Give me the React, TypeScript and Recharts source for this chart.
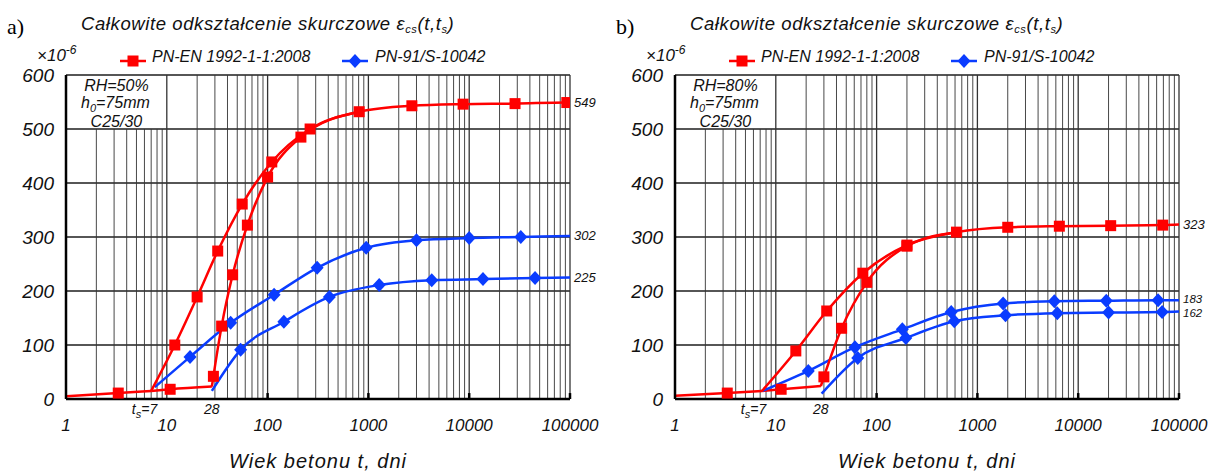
import React from "react";
import {
  LineChart, Line, XAxis, YAxis, CartesianGrid,
  ReferenceLine, ReferenceDot, ReferenceArea
} from "recharts";

const FONT = "'Liberation Sans', Arial, sans-serif";
const RED = "#ff0000";
const BLUE = "#0a3cff";
const W = 607;
const H = 474;

const xTicks = [1, 10, 100, 1000, 10000, 100000];
const yTicks = [0, 100, 200, 300, 400, 500, 600];

// a) RH=50%
const aBase1T = [1, 3.3, 7];
const aBase1V = [5, 11, 15];
const aBase2T = [7, 10.8, 28];
const aBase2V = [15, 18, 23];
const aEn7T = [7, 12, 20, 32, 56, 110, 264, 810, 2700, 8700, 28500, 93000, 100000];
const aEn7V = [15, 100, 189, 274, 361, 439, 500, 532, 543, 546, 547, 549, 549];
const aEn28T = [28, 29, 35, 45, 63, 100, 214, 810];
const aEn28V = [23, 42, 135, 230, 322, 411, 485, 532];
const aPn7T = [7.6, 17, 43, 116, 310, 950, 3000, 10000, 32500, 100000];
const aPn7V = [22, 78, 141, 193, 243, 280, 294, 298, 300, 302];
const aPn28T = [28, 54, 145, 410, 1280, 4250, 13700, 45000, 100000];
const aPn28V = [15, 91, 143, 189, 211, 220, 222, 224, 225];

// b) RH=80%
const bBase1T = [1, 3.3, 7.3];
const bBase1V = [6, 11, 15];
const bBase2T = [7.3, 11.3, 28];
const bBase2V = [15, 18, 24];
const bEn7T = [7.3, 15.8, 32, 73, 200, 620, 2000, 6500, 21000, 69000, 100000];
const bEn7V = [15, 89, 163, 233, 285, 309, 318, 320, 321, 322, 323];
const bEn28T = [28, 30, 45, 80, 200, 620];
const bEn28V = [24, 41, 131, 216, 283, 309];
const bPn7T = [7.4, 21, 61, 180, 550, 1800, 5800, 19000, 62000, 100000];
const bPn7V = [15, 52, 96, 129, 161, 177, 181, 182, 183, 183];
const bPn28T = [28.5, 65, 195, 590, 1900, 6200, 20000, 68000, 100000];
const bPn28V = [10, 76, 113, 144, 155, 159, 160, 161, 162];

const pts = (t: number[], v: number[]) => t.map((x, i) => ({ t: x, v: v[i] }));

const gridX: number[] = [];
for (let d = 0; d < 5; d++) for (let k = 1; k < 10; k++) if (d > 0 || k > 1) gridX.push(k * 10 ** d);
gridX.push(100000);

const makeDot = (shape: string, color: string, n: number) => (p: any) => {
  const { cx, cy, index } = p;
  if (index === 0 || index === n - 1 || cx == null) return <g key={`d${index}`} />;
  if (shape === "square")
    return <rect key={`d${index}`} x={cx - 5.5} y={cy - 5.5} width={11} height={11} fill={color} />;
  return <path key={`d${index}`} d={`M${cx},${cy - 7}L${cx + 6.5},${cy}L${cx},${cy + 7}L${cx - 6.5},${cy}Z`} fill={color} />;
};

function Sym({ shape, color }: { shape: string; color: string }) {
  return (
    <svg width={26} height={14} style={{ display: "block" }}>
      <line x1={0} y1={7} x2={26} y2={7} stroke={color} strokeWidth={2.5} />
      {shape === "square"
        ? <rect x={7.5} y={1.5} width={11} height={11} fill={color} />
        : <path d="M13,0L19.5,7L13,14L6.5,7Z" fill={color} />}
    </svg>
  );
}

interface Curve { t: number[]; v: number[]; color: string; shape: string; end?: boolean; dy?: number; fs?: number }

function Panel({ left, tag, rh, curves }: { left: number; tag: string; rh: string; curves: Curve[] }) {
  const it = { fontFamily: FONT, fontStyle: "italic" as const, color: "#111" };
  return (
    <div style={{ position: "absolute", left, top: 0, width: W, height: H }}>
      <LineChart width={W} height={H} margin={{ top: 75, right: 37, bottom: 35, left: 6 }}>
        <CartesianGrid vertical={false} stroke="#1e1e1e" strokeWidth={1.3} />
        {gridX.map(x => x < 10
          ? <ReferenceLine key={x} segment={[{ x, y: 0 }, { x, y: 500 }]} stroke="#333" strokeWidth={0.9} />
          : <ReferenceLine key={x} x={x} stroke="#333" strokeWidth={Number.isInteger(Math.log10(x)) ? 1.3 : 0.9} />)}
        {xTicks.slice(2).map(x => (
          <ReferenceLine key={"tk" + x} segment={[{ x, y: 0 }, { x, y: 11 }]} stroke="#000" strokeWidth={2.5} />
        ))}
        <XAxis dataKey="t" type="number" scale="log" domain={[1, 100000]} ticks={xTicks} allowDataOverflow
          height={40} tickLine={false} tickMargin={14}
          axisLine={{ stroke: "#000", strokeWidth: 2.5 }}
          tick={{ fill: "#111", fontSize: 17, fontStyle: "italic", fontFamily: FONT }} />
        <YAxis type="number" domain={[0, 600]} ticks={yTicks} width={60} tickLine={false} tickMargin={6}
          axisLine={{ stroke: "#000", strokeWidth: 2.5 }}
          tick={{ fill: "#111", fontSize: 19, fontStyle: "italic", fontFamily: FONT }} />
        <ReferenceArea x1={1} x2={10} y1={500} y2={600} fillOpacity={0} strokeOpacity={0}
          label={(p: any) => {
            const { x, y, width, height } = p.viewBox;
            const cx = x + width / 2, cy = y + height / 2;
            return (
              <text x={cx} textAnchor="middle" fontFamily={FONT} fontStyle="italic" fontSize={16} fill="#111">
                <tspan x={cx} y={cy - 11}>{rh}</tspan>
                <tspan x={cx - 1} y={cy + 6}>h</tspan><tspan dy={4} fontSize={11}>0</tspan><tspan dy={-4}>=75mm</tspan>
                <tspan x={cx} y={cy + 25}>C25/30</tspan>
              </text>
            );
          }} />
        <ReferenceDot x={7} y={0} r={0} fill="none" stroke="none"
          label={(p: any) => (
            <text x={p.viewBox.x + 6} y={p.viewBox.y + 15} textAnchor="end" fontFamily={FONT} fontStyle="italic" fontSize={14} fill="#111">
              t<tspan dy={4} fontSize={11}>s</tspan><tspan dy={-4}>=7</tspan>
            </text>
          )} />
        <ReferenceDot x={28} y={0} r={0} fill="none" stroke="none"
          label={(p: any) => (
            <text x={p.viewBox.x} y={p.viewBox.y + 15} textAnchor="middle" fontFamily={FONT} fontStyle="italic" fontSize={14} fill="#111">28</text>
          )} />
        {curves.map((c, i) => (
          <Line key={i} data={pts(c.t, c.v)} dataKey="v" type="monotone" stroke={c.color} strokeWidth={2.5}
            dot={makeDot(c.shape, c.color, c.t.length)} activeDot={false} isAnimationActive={false} />
        ))}
        {curves.filter(c => c.end).map((c, i) => (
          <ReferenceDot key={"e" + i} x={c.t[c.t.length - 1]} y={c.v[c.v.length - 1]} r={0} fill="none" stroke="none"
            label={(p: any) => (
              <text x={p.viewBox.x + 4} y={p.viewBox.y + (c.dy || 0)} dominantBaseline="central" fontFamily={FONT}
                fontStyle="italic" fontSize={c.fs || 13} fill="#111">
                {c.v[c.v.length - 1]}
              </text>
            )} />
        ))}
      </LineChart>

      <div style={{ position: "absolute", left: 7, top: 16, fontFamily: "'Liberation Serif', serif", fontSize: 22, lineHeight: 1 }}>{tag}</div>
      <div style={{ ...it, position: "absolute", left: 81, top: 15, fontSize: 18.5, lineHeight: 1, letterSpacing: 0.6, whiteSpace: "nowrap" }}>
        Całkowite odkształcenie skurczowe ε<sub style={{ fontSize: 11, verticalAlign: -3 }}>cs</sub>(t,t<sub style={{ fontSize: 11, verticalAlign: -3 }}>s</sub>)
      </div>
      <div style={{ ...it, position: "absolute", left: 37, top: 44, fontSize: 17, lineHeight: 1, whiteSpace: "nowrap" }}>
        ×10<sup style={{ fontSize: 12, verticalAlign: 7 }}>-6</sup>
      </div>
      <div style={{ position: "absolute", left: 120, top: 54 }}><Sym shape="square" color={RED} /></div>
      <div style={{ ...it, position: "absolute", left: 152, top: 49, fontSize: 16, lineHeight: 1, whiteSpace: "nowrap" }}>PN-EN 1992-1-1:2008</div>
      <div style={{ position: "absolute", left: 342, top: 54 }}><Sym shape="diamond" color={BLUE} /></div>
      <div style={{ ...it, position: "absolute", left: 375, top: 49, fontSize: 16, lineHeight: 1, whiteSpace: "nowrap" }}>PN-91/S-10042</div>
      <div style={{ ...it, position: "absolute", left: 168, width: 300, textAlign: "center", top: 451, fontSize: 20, lineHeight: 1, letterSpacing: 1, whiteSpace: "nowrap" }}>
        Wiek betonu t, dni
      </div>
    </div>
  );
}

const curvesA: Curve[] = [
  { t: aBase1T, v: aBase1V, color: RED, shape: "square" },
  { t: aBase2T, v: aBase2V, color: RED, shape: "square" },
  { t: aPn7T, v: aPn7V, color: BLUE, shape: "diamond", end: true },
  { t: aPn28T, v: aPn28V, color: BLUE, shape: "diamond", end: true },
  { t: aEn28T, v: aEn28V, color: RED, shape: "square" },
  { t: aEn7T, v: aEn7V, color: RED, shape: "square", end: true },
];

const curvesB: Curve[] = [
  { t: bBase1T, v: bBase1V, color: RED, shape: "square" },
  { t: bBase2T, v: bBase2V, color: RED, shape: "square" },
  { t: bPn7T, v: bPn7V, color: BLUE, shape: "diamond", end: true, dy: -1.5, fs: 11.5 },
  { t: bPn28T, v: bPn28V, color: BLUE, shape: "diamond", end: true, dy: 1.5, fs: 11.5 },
  { t: bEn28T, v: bEn28V, color: RED, shape: "square" },
  { t: bEn7T, v: bEn7V, color: RED, shape: "square", end: true },
];

export default function App() {
  return (
    <div style={{ position: "absolute", left: 0, top: 0, width: 1214, height: 474, background: "#fff", overflow: "hidden" }}>
      <Panel left={0} tag="a)" rh="RH=50%" curves={curvesA} />
      <Panel left={609} tag="b)" rh="RH=80%" curves={curvesB} />
    </div>
  );
}
